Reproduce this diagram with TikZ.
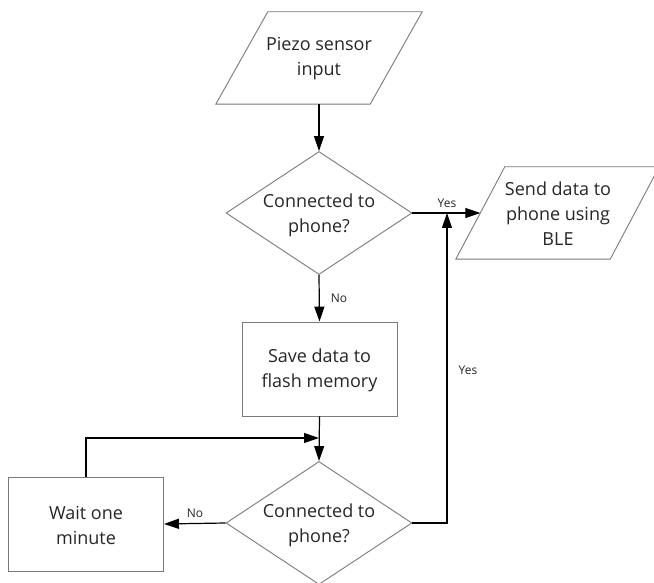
\documentclass[tikz,border=0pt]{standalone}
\usepackage{fontspec}
\setmainfont{Open Sans}
\usetikzlibrary{arrows.meta,shapes.geometric,calc}
\definecolor{edgegray}{HTML}{7A7A7A}
\definecolor{ink}{HTML}{262626}
\tikzset{
  shapeline/.style={draw=edgegray, line width=0.9pt},
  iobody/.style={rectangle, minimum width=154pt, minimum height=92pt, inner sep=0pt},
  procbox/.style={shapeline, rectangle, minimum width=155pt, minimum height=94pt, inner sep=0pt},
  decision/.style={shapeline, diamond, minimum width=186pt, minimum height=123pt, inner sep=0pt},
  txt/.style={text=ink, align=center, font=\fontsize{18}{25}\selectfont, inner sep=0pt},
  lbl/.style={text=ink, font=\fontsize{12}{14}\selectfont, inner sep=0pt},
  arr/.style={draw=black, line width=1.2pt, -{Triangle[length=15pt,width=10pt]}},
}
% slanted outline of an input/output node: \ioslant{node}{half slant}
\newcommand{\ioslant}[2]{%
  \draw[shapeline] ($(#1.north west)+(#2,0)$) -- ($(#1.north east)+(#2,0)$)
    -- ($(#1.south east)-(#2,0)$) -- ($(#1.south west)-(#2,0)$) -- cycle;}
\begin{document}
\begin{tikzpicture}[x=1pt,y=-1pt]
\useasboundingbox (0,0) rectangle (654,583);
\begin{scope}
\clip (0,0) rectangle (654,583);
% input / output nodes
\node[iobody] (p1) at (319,58) {};
\node[iobody] (p2) at (557.5,213) {};
\ioslant{p1}{26}
\ioslant{p2}{24.5}
% process boxes and decisions
\node[decision] (d1) at (319,213) {};
\node[procbox] (s) at (319.5,369) {};
\node[decision] (d2) at (319,523) {};
\node[procbox] (w) at (86,524) {};
% texts
\node[txt] (tp1) at (319,59) {Piezo sensor\\input};
\node[txt] (td1) at (319,215) {Connected to\\phone?};
\node[txt] (tp2) at (558,214) {Send data to\\phone using\\BLE};
\node[txt] (ts) at (319.5,370) {Save data to\\flash memory};
\node[txt] (td2) at (319,525) {Connected to\\phone?};
\node[txt] (tw) at (86,525) {Wait one\\minute};
% junction points
\coordinate (j) at (447,213);
\coordinate (m) at (319,438);
% connectors
\draw[arr] (p1.south) -- (d1.north);
\draw[arr] (d1.east) -- (p2.west);
\draw[arr] (d1.south) -- (s.north);
\draw[arr] (s.south) -- (d2.north);
\draw[arr] (d2.west) -- (w.east);
\draw[arr] (w.north) |- (m);
\draw[arr] (d2.east) -| (j);
% branch labels
\node[lbl] (l1) at (447,203) {Yes};
\node[lbl] (l2) at (339,298) {No};
\node[lbl] (l3) at (468,370) {Yes};
\node[lbl] (l4) at (195,513) {No};
\end{scope}
\end{tikzpicture}
\end{document}
